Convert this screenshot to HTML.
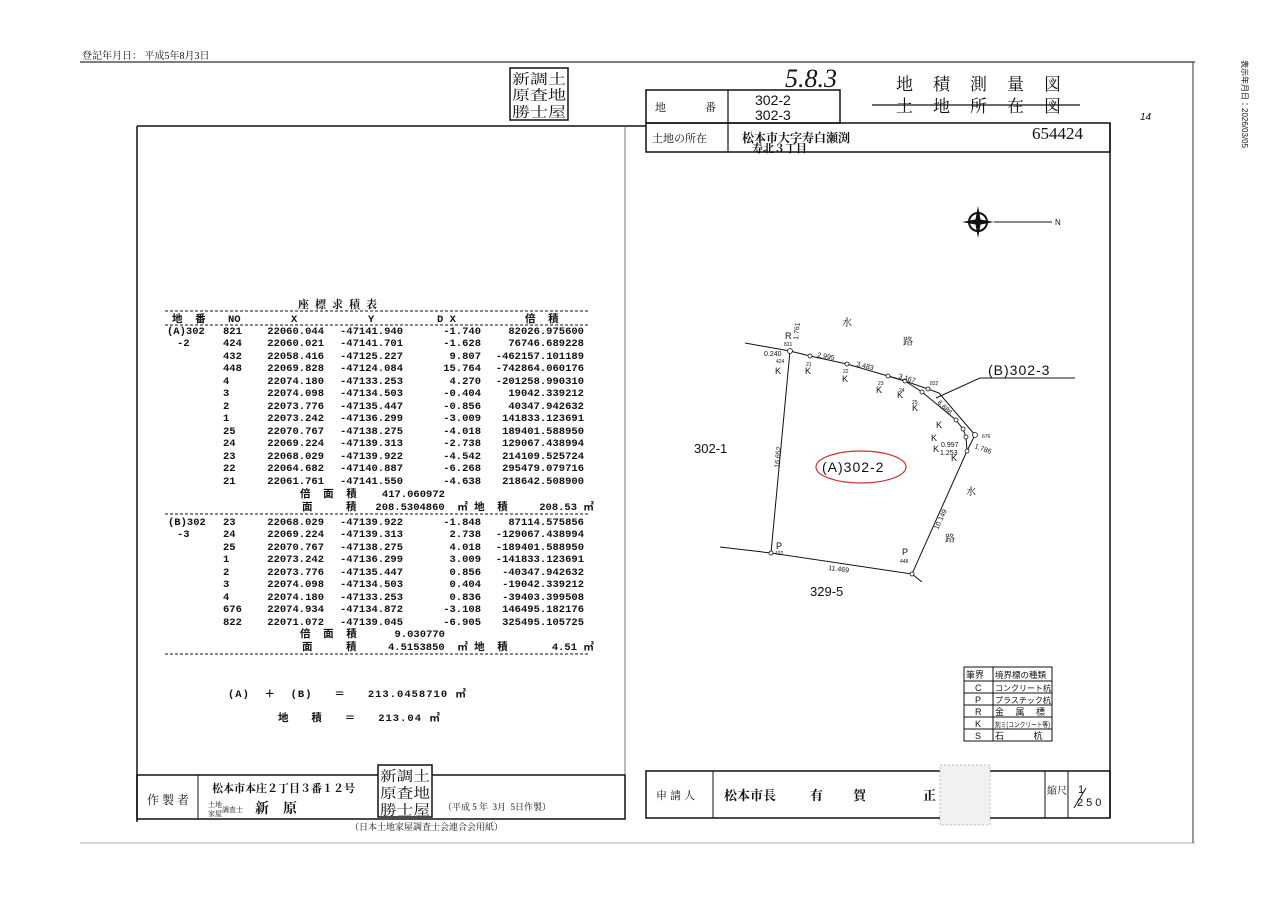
<!DOCTYPE html>
<html><head><meta charset="utf-8"><style>
html,body{margin:0;padding:0;background:#fff}
svg{display:block}
text{font-family:"Liberation Sans","Noto Sans CJK JP",sans-serif;fill:#111;white-space:pre}
.m text, text.m{font-family:"Liberation Mono","Noto Sans CJK JP",monospace;font-size:10.5px;font-weight:bold}
.s{font-family:"Liberation Serif","Noto Serif CJK SC",serif}
</style></head><body>
<svg width="1280" height="905" viewBox="0 0 1280 905" xmlns="http://www.w3.org/2000/svg">
<rect width="1280" height="905" fill="#fff"/>
<text x="82" y="59" font-size="10" class="s">登記年月日： 平成5年8月3日</text>
<line x1="80" y1="62" x2="1195" y2="62" stroke="#555" stroke-width="1.5"/>
<line x1="1193" y1="62" x2="1193" y2="843" stroke="#555" stroke-width="1.2"/>
<line x1="80" y1="843" x2="1195" y2="843" stroke="#999" stroke-width="0.8"/>
<text x="1242" y="60" font-size="8" fill="#555" transform="rotate(90 1242 60)">表示年月日：2026/03/05</text>

<!-- stamp top -->
<rect x="510" y="68" width="58" height="52" fill="none" stroke="#111" stroke-width="1.5"/>
<text x="512" y="84" font-size="14" class="s" textLength="54" lengthAdjust="spacingAndGlyphs">新調土</text>
<text x="512" y="100" font-size="14" class="s" textLength="54" lengthAdjust="spacingAndGlyphs">原査地</text>
<text x="512" y="117" font-size="14" class="s" textLength="54" lengthAdjust="spacingAndGlyphs">勝士屋</text>

<text x="785" y="87" font-size="26" class="s" font-style="italic">5.8.3</text>
<text x="896" y="90" font-size="17" letter-spacing="20" class="s">地積測量図</text>
<text x="896" y="112" font-size="17" letter-spacing="20" class="s">土地所在図</text>
<line x1="872" y1="105" x2="1080" y2="105" stroke="#111" stroke-width="1.3"/>

<!-- header box -->
<rect x="646" y="90" width="194" height="33" fill="none" stroke="#111" stroke-width="1.5"/>
<line x1="728" y1="90" x2="728" y2="152" stroke="#111" stroke-width="1.2"/>
<text x="655" y="111" font-size="11" class="s">地</text><text x="705" y="111" font-size="11" class="s">番</text>
<text x="755" y="105" font-size="14">302-2</text>
<text x="755" y="120" font-size="14">302-3</text>
<rect x="646" y="123" width="464" height="29" fill="none" stroke="#111" stroke-width="1.5"/>
<text x="652" y="142" font-size="11" class="s">土地の所在</text>
<text x="742" y="142" font-size="12" font-weight="bold" class="s">松本市大字寿白瀬渕</text>
<text x="752" y="152" font-size="11" font-weight="bold" class="s">寿北３丁目</text>
<text x="1083" y="139" font-size="17" text-anchor="end" class="s">654424</text>
<text x="1140" y="120" font-size="10" font-style="italic">14</text>

<!-- main frame -->
<line x1="137" y1="126" x2="646" y2="126" stroke="#111" stroke-width="1.5"/>
<line x1="137" y1="126" x2="137" y2="822" stroke="#111" stroke-width="1.5"/>
<line x1="1110" y1="123" x2="1110" y2="818" stroke="#111" stroke-width="1.5"/>
<line x1="625" y1="126" x2="625" y2="775" stroke="#555" stroke-width="0.8"/>

<!-- table -->
<text x="298" y="308" font-size="11" font-weight="bold" letter-spacing="6" class="s">座標求積表</text>
<line x1="165" y1="311" x2="590" y2="311" stroke="#111" stroke-dasharray="3,2" stroke-width="0.9"/>
<g class="m">
<text x="172" y="322">地  番</text><text x="228" y="322">NO</text><text x="291" y="322">X</text><text x="368" y="322">Y</text><text x="437" y="322">D X</text><text x="525" y="322">倍  積</text>
</g>
<line x1="165" y1="325" x2="590" y2="325" stroke="#111" stroke-dasharray="3,2" stroke-width="0.9"/>
<g class="m">
<text x="167" y="334">(A)302</text><text x="177" y="346">-2</text>
<text x="168" y="525">(B)302</text><text x="177" y="537">-3</text>
</g>
<g class="m">
<text x="223" y="334">821</text><text x="324" y="334" text-anchor="end">22060.044</text><text x="403" y="334" text-anchor="end">-47141.940</text><text x="481" y="334" text-anchor="end">-1.740</text><text x="584" y="334" text-anchor="end">82026.975600</text>
<text x="223" y="346">424</text><text x="324" y="346" text-anchor="end">22060.021</text><text x="403" y="346" text-anchor="end">-47141.701</text><text x="481" y="346" text-anchor="end">-1.628</text><text x="584" y="346" text-anchor="end">76746.689228</text>
<text x="223" y="359">432</text><text x="324" y="359" text-anchor="end">22058.416</text><text x="403" y="359" text-anchor="end">-47125.227</text><text x="481" y="359" text-anchor="end">9.807</text><text x="584" y="359" text-anchor="end">-462157.101189</text>
<text x="223" y="371">448</text><text x="324" y="371" text-anchor="end">22069.828</text><text x="403" y="371" text-anchor="end">-47124.084</text><text x="481" y="371" text-anchor="end">15.764</text><text x="584" y="371" text-anchor="end">-742864.060176</text>
<text x="223" y="384">4</text><text x="324" y="384" text-anchor="end">22074.180</text><text x="403" y="384" text-anchor="end">-47133.253</text><text x="481" y="384" text-anchor="end">4.270</text><text x="584" y="384" text-anchor="end">-201258.990310</text>
<text x="223" y="396">3</text><text x="324" y="396" text-anchor="end">22074.098</text><text x="403" y="396" text-anchor="end">-47134.503</text><text x="481" y="396" text-anchor="end">-0.404</text><text x="584" y="396" text-anchor="end">19042.339212</text>
<text x="223" y="409">2</text><text x="324" y="409" text-anchor="end">22073.776</text><text x="403" y="409" text-anchor="end">-47135.447</text><text x="481" y="409" text-anchor="end">-0.856</text><text x="584" y="409" text-anchor="end">40347.942632</text>
<text x="223" y="421">1</text><text x="324" y="421" text-anchor="end">22073.242</text><text x="403" y="421" text-anchor="end">-47136.299</text><text x="481" y="421" text-anchor="end">-3.009</text><text x="584" y="421" text-anchor="end">141833.123691</text>
<text x="223" y="434">25</text><text x="324" y="434" text-anchor="end">22070.767</text><text x="403" y="434" text-anchor="end">-47138.275</text><text x="481" y="434" text-anchor="end">-4.018</text><text x="584" y="434" text-anchor="end">189401.588950</text>
<text x="223" y="446">24</text><text x="324" y="446" text-anchor="end">22069.224</text><text x="403" y="446" text-anchor="end">-47139.313</text><text x="481" y="446" text-anchor="end">-2.738</text><text x="584" y="446" text-anchor="end">129067.438994</text>
<text x="223" y="459">23</text><text x="324" y="459" text-anchor="end">22068.029</text><text x="403" y="459" text-anchor="end">-47139.922</text><text x="481" y="459" text-anchor="end">-4.542</text><text x="584" y="459" text-anchor="end">214109.525724</text>
<text x="223" y="471">22</text><text x="324" y="471" text-anchor="end">22064.682</text><text x="403" y="471" text-anchor="end">-47140.887</text><text x="481" y="471" text-anchor="end">-6.268</text><text x="584" y="471" text-anchor="end">295479.079716</text>
<text x="223" y="484">21</text><text x="324" y="484" text-anchor="end">22061.761</text><text x="403" y="484" text-anchor="end">-47141.550</text><text x="481" y="484" text-anchor="end">-4.638</text><text x="584" y="484" text-anchor="end">218642.508900</text>
<text x="300" y="497">倍  面  積    417.060972</text>
<text x="302" y="510">面</text><text x="346" y="510">積   208.5304860  ㎡ 地  積     208.53 ㎡</text>
</g>
<line x1="165" y1="514" x2="590" y2="514" stroke="#111" stroke-dasharray="3,2" stroke-width="0.9"/>
<g class="m">
<text x="223" y="525">23</text><text x="324" y="525" text-anchor="end">22068.029</text><text x="403" y="525" text-anchor="end">-47139.922</text><text x="481" y="525" text-anchor="end">-1.848</text><text x="584" y="525" text-anchor="end">87114.575856</text>
<text x="223" y="537">24</text><text x="324" y="537" text-anchor="end">22069.224</text><text x="403" y="537" text-anchor="end">-47139.313</text><text x="481" y="537" text-anchor="end">2.738</text><text x="584" y="537" text-anchor="end">-129067.438994</text>
<text x="223" y="550">25</text><text x="324" y="550" text-anchor="end">22070.767</text><text x="403" y="550" text-anchor="end">-47138.275</text><text x="481" y="550" text-anchor="end">4.018</text><text x="584" y="550" text-anchor="end">-189401.588950</text>
<text x="223" y="562">1</text><text x="324" y="562" text-anchor="end">22073.242</text><text x="403" y="562" text-anchor="end">-47136.299</text><text x="481" y="562" text-anchor="end">3.009</text><text x="584" y="562" text-anchor="end">-141833.123691</text>
<text x="223" y="575">2</text><text x="324" y="575" text-anchor="end">22073.776</text><text x="403" y="575" text-anchor="end">-47135.447</text><text x="481" y="575" text-anchor="end">0.856</text><text x="584" y="575" text-anchor="end">-40347.942632</text>
<text x="223" y="587">3</text><text x="324" y="587" text-anchor="end">22074.098</text><text x="403" y="587" text-anchor="end">-47134.503</text><text x="481" y="587" text-anchor="end">0.404</text><text x="584" y="587" text-anchor="end">-19042.339212</text>
<text x="223" y="600">4</text><text x="324" y="600" text-anchor="end">22074.180</text><text x="403" y="600" text-anchor="end">-47133.253</text><text x="481" y="600" text-anchor="end">0.836</text><text x="584" y="600" text-anchor="end">-39403.399508</text>
<text x="223" y="612">676</text><text x="324" y="612" text-anchor="end">22074.934</text><text x="403" y="612" text-anchor="end">-47134.872</text><text x="481" y="612" text-anchor="end">-3.108</text><text x="584" y="612" text-anchor="end">146495.182176</text>
<text x="223" y="625">822</text><text x="324" y="625" text-anchor="end">22071.072</text><text x="403" y="625" text-anchor="end">-47139.045</text><text x="481" y="625" text-anchor="end">-6.905</text><text x="584" y="625" text-anchor="end">325495.105725</text>
<text x="300" y="637">倍  面  積      9.030770</text>
<text x="302" y="650">面</text><text x="346" y="650">積     4.5153850  ㎡ 地  積       4.51 ㎡</text>
</g>
<line x1="165" y1="654" x2="590" y2="654" stroke="#111" stroke-dasharray="3,2" stroke-width="0.9"/>
<text x="228" y="697" class="m" letter-spacing="1">(A)  ＋  (B)   ＝   213.0458710 ㎡</text>
<text x="278" y="721" class="m" letter-spacing="1">地   積   ＝   213.04 ㎡</text>

<!-- compass -->
<circle cx="978" cy="222" r="9" fill="none" stroke="#111" stroke-width="2"/>
<path d="M978 206 L981 222 L978 238 L975 222 Z M962 222 L978 219 L994 222 L978 225 Z" fill="#111"/>
<line x1="994" y1="222" x2="1052" y2="222" stroke="#111"/>
<text x="1055" y="225" font-size="8">N</text>

<!-- plot -->
<g stroke="#111" stroke-width="1" fill="none">
<polyline points="745,343 790,351 810,356 847,364 888,376 905,381 928,389 939,393 975,435"/>
<polyline points="790,351 771,553 912,574 967,451 975,435"/>
<polyline points="888,376 905,381 922,392 956,420 963,429 966,437 967,451"/>
<polyline points="720,547 771,553"/><polyline points="912,574 922,582"/>
<polyline points="936,398 980,378 1075,378"/>
</g>
<g fill="#fff" stroke="#111" stroke-width="0.8">
<circle cx="790" cy="351" r="2.5"/><circle cx="810" cy="356" r="2"/><circle cx="847" cy="364" r="2"/><circle cx="888" cy="376" r="2"/><circle cx="905" cy="381" r="2"/><circle cx="928" cy="389" r="2"/><circle cx="922" cy="392" r="2"/><circle cx="956" cy="420" r="2"/><circle cx="963" cy="429" r="2"/><circle cx="966" cy="437" r="2"/><circle cx="967" cy="451" r="2"/><circle cx="975" cy="435" r="2.5"/><circle cx="771" cy="553" r="2"/><circle cx="912" cy="574" r="2"/>
</g>
<g font-size="9">
<text x="785" y="339">R</text><text x="784" y="346" font-size="5">821</text>
<text x="764" y="356" font-size="7">0.240</text><text x="776" y="363" font-size="5">424</text><text x="775" y="374">K</text>
<text x="806" y="366" font-size="5">21</text><text x="805" y="374">K</text>
<text x="843" y="373" font-size="5">22</text><text x="842" y="382">K</text>
<text x="817" y="357" font-size="7" transform="rotate(10 817 357)">2.995</text>
<text x="856" y="366" font-size="7" transform="rotate(14 856 366)">3.483</text>
<text x="898" y="378" font-size="7" transform="rotate(17 898 378)">3.167</text>
<text x="930" y="385" font-size="5">822</text>
<text x="878" y="385" font-size="5">23</text><text x="876" y="393">K</text>
<text x="899" y="392" font-size="5">24</text><text x="897" y="398">K</text>
<text x="912" y="404" font-size="5">25</text><text x="912" y="411">K</text>
<text x="937" y="403" font-size="7" transform="rotate(45 937 403)">6.686</text>
<text x="982" y="438" font-size="5">676</text>
<text x="974" y="448" font-size="7" transform="rotate(20 974 448)">1.786</text>
<text x="936" y="428">K</text><text x="931" y="441">K</text><text x="933" y="452">K</text><text x="951" y="461">K</text>
<text x="941" y="447" font-size="7">0.997</text><text x="940" y="455" font-size="7">1.253</text>
<text x="779" y="468" font-size="7" transform="rotate(-84 779 468)">16.652</text>
<text x="938" y="530" font-size="7" transform="rotate(-65 938 530)">10.149</text>
<text x="828" y="570" font-size="7" transform="rotate(7 828 570)">11.469</text>
<text x="776" y="549">P</text><text x="775" y="555" font-size="5">432</text>
<text x="902" y="555">P</text><text x="900" y="563" font-size="5">448</text>
<text x="798" y="340" font-size="7" transform="rotate(-84 798 340)">1.761</text>
<text x="842" y="326" font-size="10" class="s">水</text><text x="903" y="345" font-size="10" class="s">路</text>
<text x="966" y="495" font-size="10" class="s">水</text><text x="945" y="542" font-size="10" class="s">路</text>
</g>
<ellipse cx="861" cy="467" rx="45" ry="16" fill="none" stroke="#c33" stroke-width="1.2"/>
<text x="822" y="472" font-size="14" letter-spacing="1">(A)302-2</text>
<text x="988" y="375" font-size="14" letter-spacing="1">(B)302-3</text>
<text x="694" y="453" font-size="13">302-1</text>
<text x="810" y="596" font-size="13">329-5</text>

<!-- legend -->
<g stroke="#111" stroke-width="1" fill="none">
<rect x="964" y="667" width="88" height="74"/>
<line x1="993" y1="667" x2="993" y2="741"/>
<line x1="964" y1="681" x2="1052" y2="681"/><line x1="964" y1="693" x2="1052" y2="693"/><line x1="964" y1="705" x2="1052" y2="705"/><line x1="964" y1="717" x2="1052" y2="717"/><line x1="964" y1="729" x2="1052" y2="729"/>
</g>
<g font-size="9" class="s">
<text x="966" y="678">筆界</text><text x="995" y="678" font-size="8.5">境界標の種類</text>
<text x="975" y="691">C</text><text x="995" y="691" font-size="8">コンクリート杭</text>
<text x="975" y="703">P</text><text x="995" y="703" font-size="8">プラスチック杭</text>
<text x="975" y="715">R</text><text x="995" y="715">金 　属 　標</text>
<text x="975" y="727">K</text><text x="995" y="727" font-size="7" textLength="55" lengthAdjust="spacingAndGlyphs">刻ミ(コンクリート等)</text>
<text x="975" y="739">S</text><text x="995" y="739">石 　　　杭</text>
</g>

<!-- bottom left box -->
<rect x="137" y="775" width="488" height="44" fill="none" stroke="#111" stroke-width="1.5"/>
<line x1="198" y1="775" x2="198" y2="819" stroke="#111"/>
<text x="147" y="804" font-size="12" class="s" letter-spacing="3">作製者</text>
<text x="212" y="792" font-size="11" font-weight="bold" class="s">松本市本庄２丁目３番１２号</text>
<text x="208" y="807" font-size="7" class="s">土地</text><text x="208" y="816" font-size="7" class="s">家屋</text><text x="222" y="812" font-size="7" class="s">調査士</text>
<text x="255" y="813" font-size="14" font-weight="bold" class="s" letter-spacing="14">新原</text>
<rect x="378" y="765" width="54" height="52" fill="#fff" stroke="#111" stroke-width="1.5"/>
<text x="380" y="781" font-size="14" class="s" textLength="50" lengthAdjust="spacingAndGlyphs">新調土</text>
<text x="380" y="798" font-size="14" class="s" textLength="50" lengthAdjust="spacingAndGlyphs">原査地</text>
<text x="380" y="815" font-size="14" class="s" textLength="50" lengthAdjust="spacingAndGlyphs">勝士屋</text>
<text x="443" y="810" font-size="9" class="s">（平成 5 年  3月  5日作製）</text>
<text x="350" y="830" font-size="9" class="s">（日本土地家屋調査士会連合会用紙）</text>

<!-- bottom right box -->
<rect x="646" y="771" width="464" height="47" fill="none" stroke="#111" stroke-width="1.5"/>
<line x1="713" y1="771" x2="713" y2="818" stroke="#111"/>
<line x1="1045" y1="771" x2="1045" y2="818" stroke="#111"/>
<line x1="1068" y1="771" x2="1068" y2="818" stroke="#111"/>
<text x="656" y="799" font-size="11" class="s" letter-spacing="3">申請人</text>
<text x="724" y="800" font-size="13" font-weight="bold" class="s">松本市長</text>
<text x="810" y="800" font-size="13" font-weight="bold" class="s">有</text>
<text x="853" y="800" font-size="13" font-weight="bold" class="s">賀</text>
<text x="923" y="800" font-size="13" font-weight="bold" class="s">正</text>
<rect x="940" y="765" width="50" height="60" fill="#f1f1f1" stroke="#bbb" stroke-dasharray="2,2"/>
<text x="1047" y="794" font-size="10" class="s">縮尺</text>
<text x="1078" y="793" font-size="11">1</text>
<line x1="1074" y1="808" x2="1086" y2="788" stroke="#111"/>
<text x="1077" y="806" font-size="11" letter-spacing="3">250</text>
</svg>
</body></html>
